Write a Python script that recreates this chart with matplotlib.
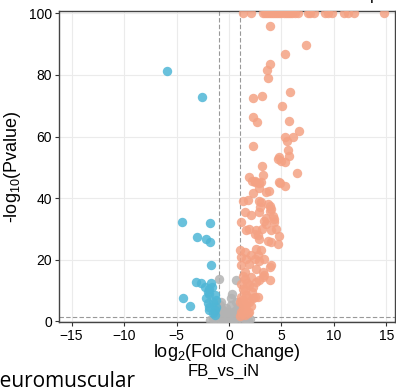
import matplotlib
matplotlib.use("Agg")
import matplotlib.pyplot as plt
from matplotlib.lines import Line2D

# === data (log2 FC, -log10 p) ===
up_top_x = [1.3, 2.05, 3.2, 3.4, 3.6, 3.8, 4.0, 4.2, 4.4, 4.6, 4.8, 5.0, 5.2, 5.4,
            5.6, 5.8, 6.0, 6.3, 6.6, 7.5, 7.7, 8.1, 9.1, 9.4, 9.8, 11.0, 11.3, 11.9, 14.8]
up_x = [3.92, 7.29, 5.3, 3.92, 3.6, 3.67, 5.8, 2.33, 3.19, 5.07, 2.33, 2.65, 5.67, 6.71,
        5.38, 6.08, 5.5, 2.33, 5.6, 4.74, 5.76, 4.65, 4.97, 5.29, 3.1, 6.46, 3.22, 1.89,
        2.2, 2.52, 3.07, 4.8, 5.29, 2.84, 2.27, 3.54, 3.79, 1.31, 1.79, 2.84, 3.07, 3.7,
        3.86, 2.97, 4.02, 1.48, 2.11, 4.17, 3.48, 2.9, 3.38, 3.86, 4.33, 1.16, 3.54, 1.64,
        1.95, 2.59, 3.16, 4.5, 4.02, 2.43, 4.8, 4.65, 2.9, 3.7, 4.02, 1.0, 1.48, 1.16,
        1.64, 2.11, 2.59, 3.07, 3.38, 4.02, 1.95, 2.59, 3.22, 2.11, 1.16, 1.48, 2.59, 1.95,
        1.31, 1.64, 2.27, 2.74, 1.0, 1.64, 1.31, 1.95, 3.86, 3.38, 2.43, 2.74, 2.84, 3.22,
        3.86, 2.9, 2.27, 1.48, 1.16, 1.79, 2.43, 1.31, 1.16, 1.48, 1.79, 1.05, 1.2, 1.4,
        1.6, 2.1, 1.9, 1.25, 2.2, 1.75, 1.5, 1.1, 1.3, 2.9, 4.88, 2.43, 4.33, 2.74]
up_y = [96.0, 89.7, 86.7, 83.5, 81.7, 79.1, 74.5, 72.6, 73.0, 69.8, 66.4, 64.6, 64.9, 61.7,
        59.9, 59.9, 58.5, 56.9, 55.6, 53.5, 53.6, 52.6, 52.1, 51.6, 50.4, 48.0, 47.6, 46.7,
        45.6, 45.3, 45.3, 45.1, 44.0, 43.4, 41.8, 42.0, 42.4, 39.1, 39.5, 39.1, 38.6, 38.1,
        37.5, 37.0, 36.5, 35.4, 34.5, 34.3, 33.5, 35.4, 32.7, 35.9, 33.2, 32.2, 31.6, 29.5,
        30.0, 29.5, 30.0, 30.0, 29.5, 28.4, 27.8, 25.2, 26.8, 26.2, 25.7, 23.0, 22.5, 20.9,
        20.3, 21.4, 23.5, 23.0, 20.3, 18.2, 18.7, 17.1, 16.0, 14.4, 18.2, 16.0, 12.8, 11.7,
        10.6, 8.5, 7.4, 8.0, 6.3, 5.3, 4.2, 3.1, 17.6, 14.9, 20.3, 21.4, 19.5, 14.4,
        13.3, 13.3, 11.2, 10.1, 8.0, 7.4, 8.0, 5.8, 3.1, 2.0, 2.6, 1.8, 2.5, 4.8,
        3.5, 5.0, 6.2, 7.0, 9.5, 12.5, 13.8, 12.0, 14.8, 44.8, 44.8, 45.6, 32.2, 27.9]

down_x = [-5.92, -2.62, -4.5, -1.79, -3.07, -2.24, -1.79, -1.67, -3.12, -2.65, -2.33, -1.92,
          -1.86, -4.4, -3.7, -2.17, -1.54, -2.02, -1.86, -1.38, -1.54, -1.6, -1.76, -1.38,
          -1.22, -2.02, -1.86, -1.3, -1.2]
down_y = [81.3, 72.9, 32.2, 31.9, 27.3, 26.8, 25.7, 18.2, 12.8, 12.3, 11.2, 10.6,
          9.0, 7.4, 5.1, 7.4, 6.4, 5.8, 4.7, 3.6, 2.6, 11.2, 12.3, 8.5,
          6.9, 9.6, 3.6, 2.0, 4.5]

ns_x = [-0.95, 0.62, 0.3, -1.2, -0.9, -1.07, -1.38, -0.9, -0.43, 0.05, 0.37, 0.68, 0.84,
        0.52, -0.11, -0.74, -1.22, 1.0, 1.48, -0.74, -0.27, 0.2, 0.68, 0.95, -0.9, -0.43,
        0.05, 0.52, 0.84, -0.11, 0.37, -0.74, -1.8, -1.5, -1.3, -1.1, 1.2, 1.5, 1.8, 2.0,
        -0.5, 0.5, 0.0, 0.2, -0.2, 0.8, -0.8, -0.6, 0.6, -0.3, 0.15]
ns_y = [13.6, 13.3, 9.0, 5.8, 5.3, 4.2, 3.1, 2.6, 2.0, 2.6, 3.1, 3.6, 4.7,
        2.0, 1.5, 1.5, 1.5, 1.5, 1.0, 6.3, 4.2, 5.3, 6.3, 4.2, 2.0, 2.0,
        2.6, 2.0, 2.6, 0.4, 0.4, 0.4, 0.3, 0.6, 0.9, 0.2, 0.5, 0.8, 0.3, 0.6,
        0.8, 0.9, 0.2, 1.2, 1.0, 0.7, 0.6, 3.5, 1.1, 3.0, 7.5]

x_ticks = [-15, -10, -5, 0, 5, 10, 15]
y_ticks = [0, 20, 40, 60, 80, 100]

c_up = "#F4A284"
c_down = "#4FB6D6"
c_ns = "#B3B3B3"

plt.rcParams["font.family"] = ["Liberation Sans", "DejaVu Sans"]
plt.rcParams["mathtext.default"] = "regular"

fig = plt.figure(figsize=(3.96, 3.9), dpi=100)
ax = fig.add_axes([0.149, 0.174, 0.848, 0.798])

ax.grid(True, color="#EBEBEB", linewidth=0.8, zorder=0)
ax.set_axisbelow(True)

pt = dict(s=46, alpha=0.85, linewidths=0, zorder=3)
ax.scatter(ns_x, ns_y, color=c_ns, **pt)
ax.scatter(down_x, down_y, color=c_down, **pt)
ax.scatter(up_x, up_y, color=c_up, **pt)
ax.scatter(up_top_x, [100] * len(up_top_x), color=c_up, **pt)

# thresholds
for xv in (-1, 1):
    ax.axvline(xv, color="#999999", linestyle=(0, (4, 2)), linewidth=0.8, zorder=2)
ax.axhline(1.3, color="#999999", linestyle=(0, (4, 2)), linewidth=0.8, zorder=2)

ax.set_xlim(-16.2, 15.8)
ax.set_ylim(-0.3, 100.8)
ax.set_xticks(x_ticks)
ax.set_yticks(y_ticks)
ax.tick_params(labelsize=10, length=3, width=0.8, color="#333333", pad=2)
for sp in ax.spines.values():
    sp.set_color("#444444")
    sp.set_linewidth(1.0)

ax.set_ylabel("-log$_{10}$(Pvalue)", fontsize=13, labelpad=4)
ax.set_xlabel("log$_2$(Fold Change)", fontsize=13, labelpad=-1)
fig.text(0.565, 0.048, "FB_vs_iN", fontsize=12, ha="center", va="center")

# legend cut off at the top of the crop
handles = [Line2D([], [], marker="o", linestyle="", color=c, markersize=6)
           for c in (c_down, c_ns, c_up)]
fig.legend(handles, ["Down", "NoDiff", "Up"], loc="lower center", ncol=3,
           bbox_to_anchor=(0.57, 0.955), frameon=False, fontsize=12,
           handletextpad=0.3, columnspacing=2.5)

# text from the page below, cut off at the left edge
fig.text(-0.04, 0.008, "Neuromuscular", fontsize=15, family="Open Sans",
         ha="left", va="baseline")

fig.savefig("out.png", dpi=100)
